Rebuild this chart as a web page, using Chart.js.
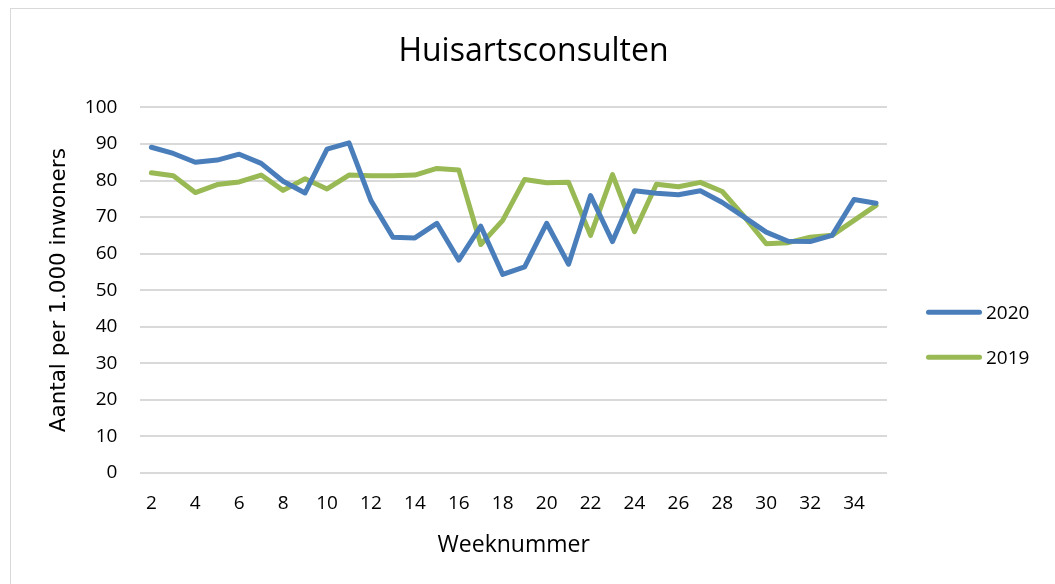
<!DOCTYPE html>
<html>
<head>
<meta charset="utf-8">
<script src="https://cdn.jsdelivr.net/npm/chart.js@4"></script>
<style>
html,body{margin:0;padding:0;background:#fff;}
#wrap{position:absolute;left:0;top:0;width:1055px;height:584px;}
#frame{position:absolute;left:10px;top:8px;width:1060px;height:590px;border:1px solid #d9d9d9;box-sizing:border-box;}
</style>
</head>
<body>
<div id="frame"></div>
<div id="wrap"><canvas id="c" width="1055" height="584"></canvas></div>
<script>
const weeks = [2,3,4,5,6,7,8,9,10,11,12,13,14,15,16,17,18,19,20,21,22,23,24,25,26,27,28,29,30,31,32,33,34,35];
const values2020 = [89.1,87.4,85.0,85.6,87.2,84.7,79.8,76.6,88.6,90.3,74.5,64.5,64.3,68.3,58.2,67.5,54.3,56.4,68.3,57.1,75.9,63.3,77.2,76.5,76.1,77.2,74.0,70.0,65.9,63.4,63.3,65.0,74.8,73.8];
const values2019 = [82.1,81.3,76.7,78.9,79.6,81.5,77.3,80.5,77.7,81.5,81.3,81.3,81.5,83.3,82.9,62.5,69.1,80.3,79.4,79.5,65.0,81.6,66.0,79.0,78.3,79.5,77.0,70.1,62.7,63.0,64.5,65.0,69.1,73.2];
const yTicks = [0,10,20,30,40,50,60,70,80,90,100];

const FAM = "'Open Sans', sans-serif";

// legend drawn from the datasets, placed to the right of the plot area
const sideLegend = {
  id:'sideLegend',
  afterDraw(chart){
    const ctx = chart.ctx, a = chart.chartArea;
    const mid = (a.top + a.bottom) / 2;
    const x0 = a.right + 39, len = 56;
    chart.data.datasets.forEach((ds, i) => {
      const y = mid + 22 + i * 45;
      ctx.save();
      ctx.strokeStyle = ds.borderColor;
      ctx.lineWidth = 5;
      ctx.lineCap = 'round';
      ctx.beginPath();
      ctx.moveTo(x0 + 2.5, y);
      ctx.lineTo(x0 + len - 2.5, y);
      ctx.stroke();
      ctx.fillStyle = '#000';
      ctx.font = "19px " + FAM;
      ctx.textBaseline = 'middle';
      ctx.textAlign = 'left';
      ctx.fillText(ds.label, x0 + len + 4, y + 1);
      ctx.restore();
    });
  }
};

new Chart(document.getElementById('c'), {
  type:'line',
  data:{
    labels: weeks.map(String),
    datasets:[
      {label:'2020', data:values2020, borderColor:'#4a7ebb', backgroundColor:'#4a7ebb', borderWidth:5, pointRadius:0, tension:0, borderJoinStyle:'round', borderCapStyle:'round', yAxisID:'y'},
      {label:'2019', data:values2019, borderColor:'#98b954', backgroundColor:'#98b954', borderWidth:5, pointRadius:0, tension:0, borderJoinStyle:'round', borderCapStyle:'round', yAxisID:'y'}
    ]
  },
  plugins:[sideLegend],
  options:{
    responsive:false,
    animation:false,
    layout:{padding:{left:47,right:35,top:10,bottom:27}},
    plugins:{
      title:{display:true, text:'Huisartsconsulten', color:'#000', font:{family:FAM, size:32, weight:'normal'}, padding:{top:23,bottom:36}},
      legend:{display:false},
      tooltip:{enabled:false}
    },
    scales:{
      x:{
        type:'category', offset:true,
        grid:{display:false, drawTicks:false}, border:{display:false},
        ticks:{autoSkip:false, maxRotation:0, color:'#000', font:{family:FAM, size:19, lineHeight:1.0}, padding:21,
          callback:function(v,i){ const w = weeks[i]; return w % 2 === 0 ? String(w) : ''; }},
        title:{display:true, text:'Weeknummer', color:'#000', font:{family:FAM, size:23, lineHeight:1.0}, padding:{top:0,bottom:0}}
      },
      y:{
        position:'left',
        min:0, max:100,
        afterBuildTicks:function(s){ s.ticks = yTicks.map(v=>({value:v})); },
        grid:{color:'#d9d9d9', lineWidth:2, drawTicks:false}, border:{display:false},
        ticks:{color:'#000', font:{family:FAM, size:19}, padding:23},
        title:{display:true, text:'Aantal per 1.000 inwoners', color:'#000', font:{family:"\"DejaVu Sans\", Verdana, sans-serif", size:21.5}, padding:{top:0,bottom:-11}}
      },
      legendSpace:{
        type:'linear', position:'right', min:0, max:100, display:true,
        grid:{display:false, drawTicks:false}, border:{display:false},
        ticks:{display:false},
        afterFit:function(s){ s.width = 133; }
      }
    }
  }
});
</script>
</body>
</html>
